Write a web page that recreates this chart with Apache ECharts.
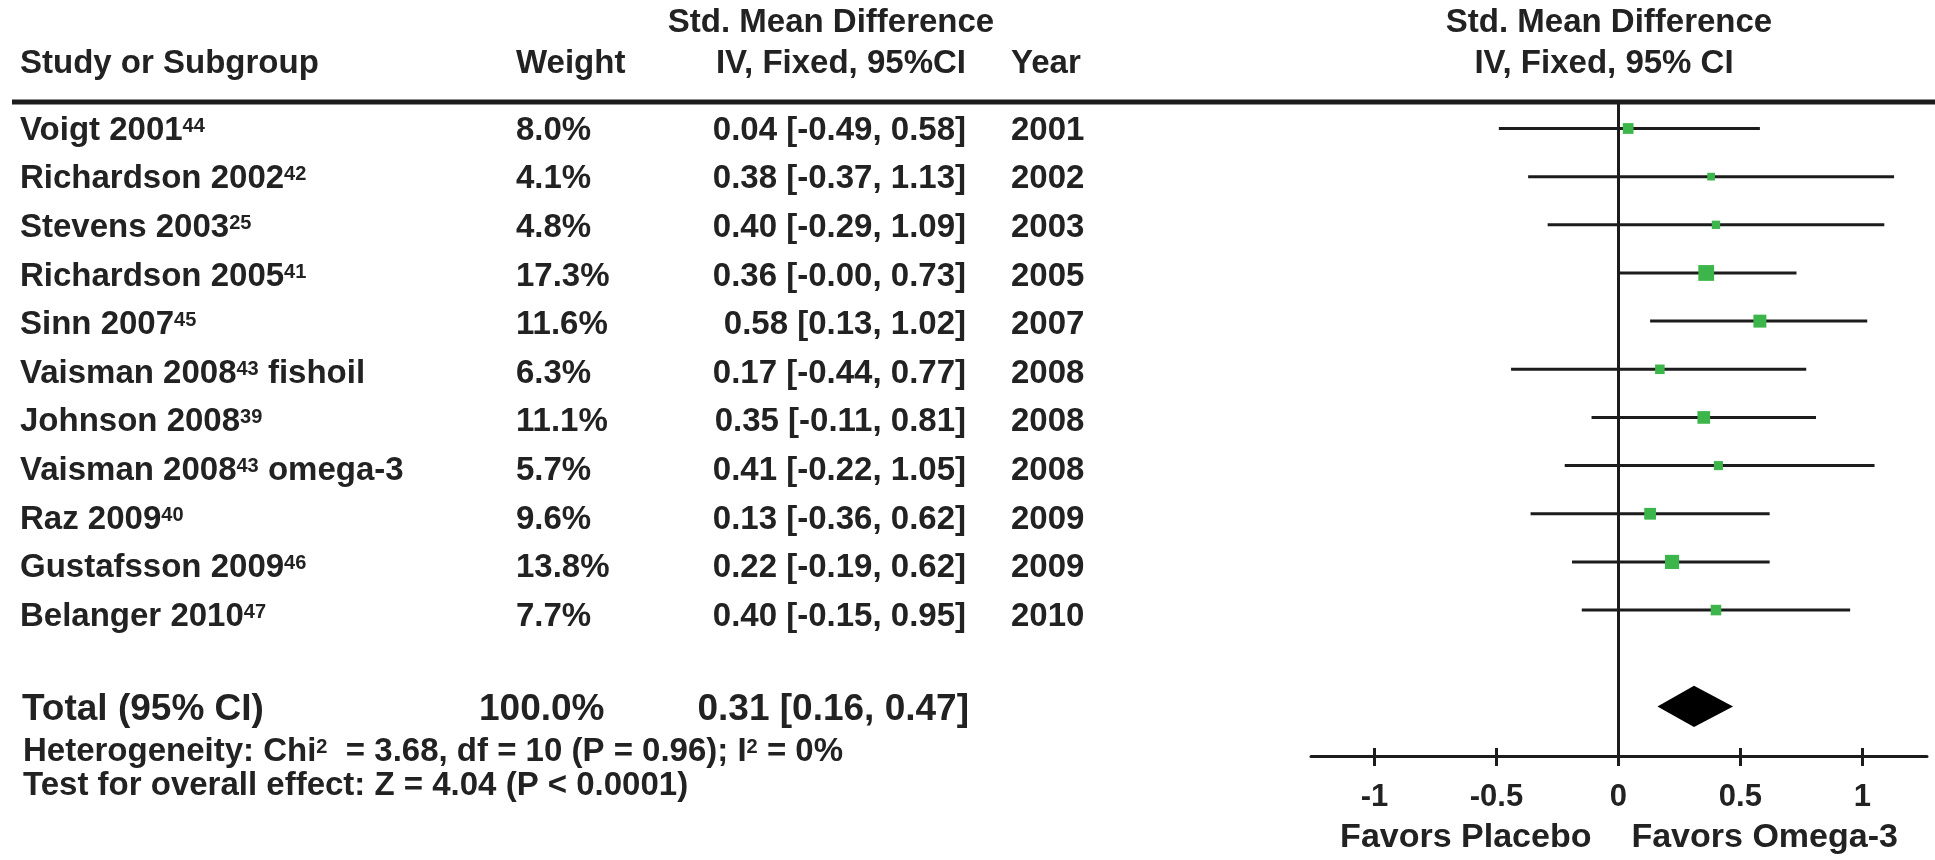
<!DOCTYPE html>
<html>
<head>
<meta charset="utf-8">
<script src="https://cdn.jsdelivr.net/npm/echarts@6/dist/echarts.min.js"></script>
<style>
html, body { margin: 0; padding: 0; background: #fff; }
#chart { width: 1935px; height: 860px; }
</style>
</head>
<body>
<div id="chart"></div>
<script>
var studies = ['Voigt 2001', 'Richardson 2002', 'Stevens 2003', 'Richardson 2005', 'Sinn 2007', 'Vaisman 2008',
	'Johnson 2008', 'Vaisman 2008', 'Raz 2009', 'Gustafsson 2009', 'Belanger 2010'];
var refs = ['44', '42', '25', '41', '45', '43', '39', '43', '40', '46', '47'];
var suffixes = ['', '', '', '', '', ' fishoil', '', ' omega-3', '', '', ''];
var weights = [8.0, 4.1, 4.8, 17.3, 11.6, 6.3, 11.1, 5.7, 9.6, 13.8, 7.7];
var smd = [0.04, 0.38, 0.40, 0.36, 0.58, 0.17, 0.35, 0.41, 0.13, 0.22, 0.40];
var lower = [-0.49, -0.37, -0.29, -0.00, 0.13, -0.44, -0.11, -0.22, -0.36, -0.19, -0.15];
var upper = [0.58, 1.13, 1.09, 0.73, 1.02, 0.77, 0.81, 1.05, 0.62, 0.62, 0.95];
var ciLabels = ['0.04 [-0.49, 0.58]', '0.38 [-0.37, 1.13]', '0.40 [-0.29, 1.09]', '0.36 [-0.00, 0.73]',
	'0.58 [0.13, 1.02]', '0.17 [-0.44, 0.77]', '0.35 [-0.11, 0.81]', '0.41 [-0.22, 1.05]',
	'0.13 [-0.36, 0.62]', '0.22 [-0.19, 0.62]', '0.40 [-0.15, 0.95]'];
var years = [2001, 2002, 2003, 2005, 2007, 2008, 2008, 2008, 2009, 2009, 2010];
var totalEffect = [0.31, 0.16, 0.47];   // estimate, lower, upper
var totalWeight = '100.0%';
var totalLabel = '0.31 [0.16, 0.47]';
var tickValues = [-1, -0.5, 0, 0.5, 1];

var FONT = '"Liberation Sans", Arial, sans-serif';
var TXT = '#222';
var LINE = '#1c1c1c';
var TOTAL_ROW = 12;
var PLOT_H = 660;

var chart = echarts.init(document.getElementById('chart'));

var supRich = {
	s: { fontSize: 20, fontWeight: 'bold', fontFamily: FONT, fill: TXT, verticalAlign: 'top', padding: [2, 0, 0, 0] }
};

function textColumn(xPos, labels, align) {
	return {
		type: 'custom',
		xAxisIndex: 2,
		yAxisIndex: 1,
		silent: true,
		data: labels.map(function (t, i) { return [xPos, i]; }),
		renderItem: function (params, api) {
			var p = api.coord([api.value(0), api.value(1)]);
			return {
				type: 'text',
				x: p[0],
				y: p[1] + 2,
				style: {
					text: labels[params.dataIndex],
					rich: supRich,
					align: align,
					verticalAlign: 'middle',
					fill: TXT,
					fontSize: 33,
					fontWeight: 'bold',
					fontFamily: FONT
				}
			};
		}
	};
}

function headText(x, y, text, align, size) {
	return {
		type: 'text',
		x: x,
		y: y,
		style: {
			text: text,
			rich: supRich,
			align: align,
			verticalAlign: 'middle',
			fill: TXT,
			fontSize: size,
			fontWeight: 'bold',
			fontFamily: FONT
		}
	};
}

var nameLabels = studies.map(function (s, i) { return s + '{s|' + refs[i] + '}' + suffixes[i]; });
var weightLabels = weights.map(function (w) { return w.toFixed(1) + '%'; });
var yearLabels = years.map(String);

var option = {
	animation: false,
	backgroundColor: '#fff',
	grid: [
		{ left: 1311, top: 102, width: 616, height: PLOT_H },
		{ left: 0, top: 102, width: 1300, height: PLOT_H }
	],
	xAxis: [
		{
			gridIndex: 0, type: 'value', position: 'bottom', min: -1.26, max: 1.265,
			axisLine: { show: true, onZero: false, lineStyle: { color: LINE, width: 3 } },
			axisTick: { show: true, customValues: tickValues, length: 10, lineStyle: { color: LINE, width: 3 } },
			axisLabel: {
				customValues: tickValues, margin: 26, color: TXT, fontSize: 31, fontWeight: 'bold', fontFamily: FONT,
				formatter: function (v) { return String(v); }
			},
			splitLine: { show: false },
			name: '{a|Favors Placebo}{g|}{a|Favors Omega-3}',
			nameLocation: 'middle',
			nameGap: 65,
			nameTextStyle: {
				rich: {
					a: { fontSize: 34, fontWeight: 'bold', fontFamily: FONT, color: TXT },
					g: { width: 40 }
				}
			}
		},
		{
			// upper half of the tick marks, moved down onto the bottom axis line
			gridIndex: 0, type: 'value', position: 'top', offset: -PLOT_H, min: -1.26, max: 1.265,
			axisLine: { show: false, onZero: false },
			axisTick: { show: true, inside: false, customValues: tickValues, length: 14, lineStyle: { color: LINE, width: 3 } },
			axisLabel: { show: false },
			splitLine: { show: false }
		},
		{ gridIndex: 1, type: 'value', min: 0, max: 1300, show: false }
	],
	yAxis: [
		{
			gridIndex: 0, type: 'value', inverse: true, min: -0.55, max: 13.03,
			axisLine: { show: true, onZero: true, onZeroAxisIndex: 0, lineStyle: { color: LINE, width: 3 } },
			axisTick: { show: false },
			axisLabel: { show: false },
			splitLine: { show: false }
		},
		{ gridIndex: 1, type: 'value', inverse: true, min: -0.55, max: 13.03, show: false }
	],
	graphic: [
		{ type: 'line', shape: { x1: 12, y1: 102, x2: 1935, y2: 102 }, style: { stroke: LINE, lineWidth: 5 } },
		headText(831, 23, 'Std. Mean Difference', 'center', 33),
		headText(20, 64, 'Study or Subgroup', 'left', 33),
		headText(516, 64, 'Weight', 'left', 33),
		headText(966, 64, 'IV, Fixed, 95%CI', 'right', 33),
		headText(1011, 64, 'Year', 'left', 33),
		headText(1609, 23, 'Std. Mean Difference', 'center', 33),
		headText(1604, 64, 'IV, Fixed, 95% CI', 'center', 33),
		headText(22, 710, 'Total (95% CI)', 'left', 37),
		headText(479, 710, totalWeight, 'left', 37),
		headText(969, 710, totalLabel, 'right', 37),
		headText(23, 752, 'Heterogeneity: Chi{s|2}  = 3.68, df = 10 (P = 0.96); I{s|2} = 0%', 'left', 33),
		headText(23, 786, 'Test for overall effect: Z = 4.04 (P < 0.0001)', 'left', 33)
	],
	series: [
		{
			// confidence interval whiskers
			type: 'custom',
			xAxisIndex: 0,
			yAxisIndex: 0,
			silent: true,
			data: smd.map(function (v, i) { return [lower[i], upper[i], i]; }),
			renderItem: function (params, api) {
				var a = api.coord([api.value(0), api.value(2)]);
				var b = api.coord([api.value(1), api.value(2)]);
				return {
					type: 'line',
					shape: { x1: a[0], y1: a[1], x2: b[0], y2: b[1] },
					style: { stroke: LINE, lineWidth: 3 }
				};
			},
			z: 2
		},
		{
			type: 'scatter',
			xAxisIndex: 0,
			yAxisIndex: 0,
			silent: true,
			symbol: 'rect',
			symbolSize: function (val, params) { return 3.8 * Math.sqrt(weights[params.dataIndex]); },
			itemStyle: { color: '#3cb54a', opacity: 1 },
			data: smd.map(function (v, i) { return [v, i]; }),
			z: 3
		},
		{
			// pooled estimate diamond
			type: 'custom',
			xAxisIndex: 0,
			yAxisIndex: 0,
			silent: true,
			data: [[totalEffect[0], totalEffect[1], totalEffect[2], TOTAL_ROW]],
			renderItem: function (params, api) {
				var r = api.value(3);
				var pl = api.coord([api.value(1), r]);
				var pr = api.coord([api.value(2), r]);
				var pt = api.coord([api.value(0), r - 0.43]);
				var pb = api.coord([api.value(0), r + 0.43]);
				return { type: 'polygon', shape: { points: [pl, pt, pr, pb] }, style: { fill: '#000' } };
			},
			z: 3
		},
		textColumn(20, nameLabels, 'left'),
		textColumn(516, weightLabels, 'left'),
		textColumn(966, ciLabels, 'right'),
		textColumn(1011, yearLabels, 'left')
	]
};

chart.setOption(option);
</script>
</body>
</html>
